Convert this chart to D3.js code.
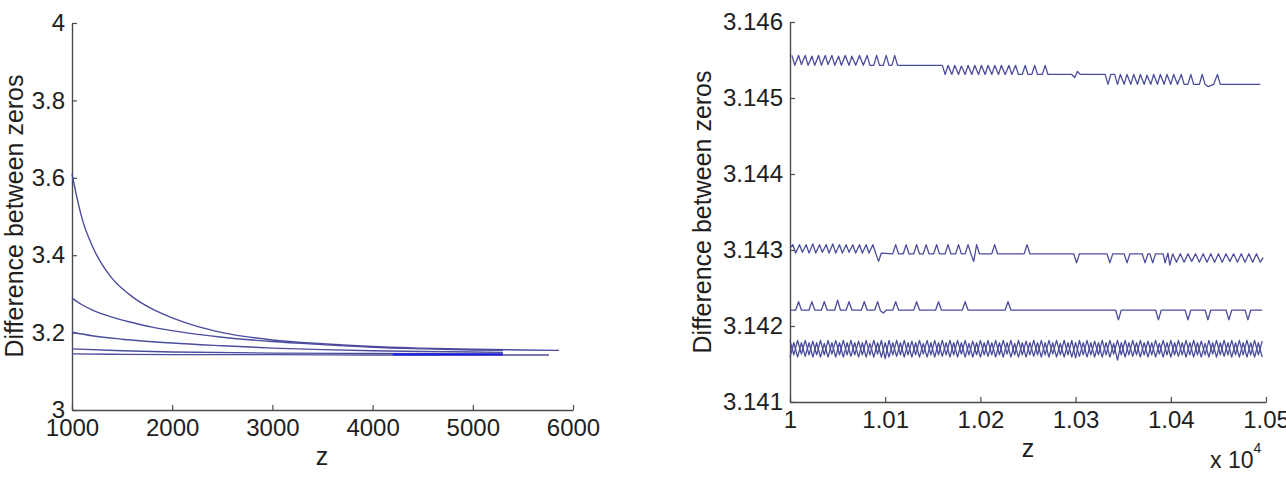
<!DOCTYPE html>
<html>
<head>
<meta charset="utf-8">
<script src="https://cdn.jsdelivr.net/npm/d3@7/dist/d3.min.js"></script>
<style>
body { margin: 0; background: #fff; }
svg { display: block; }
text { font-family: "Liberation Sans", Arial, sans-serif; }
</style>
</head>
<body>
<div id="chart"></div>
<script>
// left panel: difference between zeros, z = 1000..6000
var leftTicksX = [1000, 2000, 3000, 4000, 5000, 6000]
var leftTicksY = [3, 3.2, 3.4, 3.6, 3.8, 4]

var leftCurve1 = [[1000,3.610],[1050,3.548],[1100,3.495],[1200,3.425],[1300,3.376],[1400,3.340],[1600,3.293],[1800,3.261],[2000,3.238],[2250,3.216],[2500,3.200],[3000,3.181],[3500,3.171],[4000,3.164],[4500,3.160],[5000,3.157],[5500,3.155],[5860,3.154]]
var leftCurve2 = [[1000,3.289],[1100,3.272],[1200,3.259],[1400,3.240],[1600,3.226],[1800,3.214],[2000,3.205],[2500,3.188],[3000,3.177],[3500,3.169],[4000,3.162],[4500,3.158],[5000,3.155],[5300,3.154]]
var leftCurve3 = [[1000,3.201],[1200,3.192],[1500,3.183],[2000,3.173],[2500,3.166],[3000,3.160],[3500,3.156],[4000,3.153],[4500,3.151],[5000,3.150],[5300,3.149]]
var leftCurve4 = [[1000,3.158],[1500,3.153],[2000,3.150],[3000,3.147],[4000,3.146],[5300,3.145]]
var leftCurve5 = [[1000,3.145],[1400,3.144],[2000,3.143],[3000,3.143],[4000,3.142],[5760,3.142]]
// overplotted stretch that shows up brighter blue
var leftDense = [[4200,3.1437],[5300,3.1437]]

// right panel: z = 10000..10500 (axis shown x 10^4)
var rightTicksX = [10000, 10100, 10200, 10300, 10400, 10500]
var rightTicksY = [3.141, 3.142, 3.143, 3.144, 3.145, 3.146]

var rightTop = [[10002,3.14556],[10005,3.14543],[10009,3.14556],[10012,3.14544],[10016,3.14556],[10019,3.14543],[10023,3.14555],[10026,3.14543],[10030,3.14556],[10033,3.14543],[10037,3.14556],[10040,3.14544],[10044,3.14556],[10047,3.14543],[10051,3.14555],[10054,3.14543],[10058,3.14556],[10062,3.14543],[10065,3.14555],[10069,3.14543],[10073,3.14556],[10077,3.14543],[10081,3.14556],[10084,3.14543],[10088,3.14543],[10091,3.14556],[10094,3.14543],[10098,3.14543],[10101,3.14556],[10104,3.14543],[10107,3.14543],[10110,3.14556],[10113,3.14543],
  [10160,3.14543],[10163,3.14531],[10166,3.14543],[10170,3.14531],[10173,3.14543],[10177,3.14531],[10180,3.14542],[10184,3.14531],[10187,3.14543],[10191,3.14531],[10194,3.14543],[10198,3.14531],[10201,3.14543],[10205,3.14531],[10208,3.14543],[10212,3.14531],[10215,3.14543],[10219,3.14531],[10222,3.14543],[10226,3.14531],[10230,3.14543],[10233,3.14531],[10237,3.14543],[10240,3.14531],[10244,3.14531],[10247,3.14543],[10250,3.14531],[10254,3.14531],[10257,3.14543],[10260,3.14531],[10265,3.14531],[10268,3.14543],[10271,3.14531],
  [10296,3.14531],[10299,3.14527],[10302,3.14535],[10305,3.14531],
  [10331,3.14531],[10334,3.14518],[10337,3.14531],[10341,3.14531],[10344,3.14518],[10347,3.14531],[10351,3.14518],[10354,3.14531],[10358,3.14518],[10361,3.14531],[10365,3.14518],[10368,3.14531],[10372,3.14518],[10375,3.14530],[10379,3.14518],[10382,3.14531],[10386,3.14518],[10389,3.14531],[10393,3.14518],[10396,3.14531],[10400,3.14518],[10403,3.14531],[10407,3.14518],[10411,3.14531],[10414,3.14518],[10418,3.14518],[10421,3.14531],[10424,3.14518],[10430,3.14518],[10433,3.14531],[10436,3.14518],[10439,3.14515],[10445,3.14518],[10449,3.14531],[10452,3.14518],[10494,3.14518]]

var rightMid = [[10000,3.14303],[10003,3.14307],[10006,3.14296],[10010,3.14307],[10013,3.14297],[10017,3.14307],[10020,3.14296],[10024,3.14308],[10027,3.14296],[10031,3.14307],[10034,3.14297],[10038,3.14307],[10041,3.14296],[10045,3.14308],[10048,3.14296],[10052,3.14307],[10055,3.14296],[10059,3.14307],[10062,3.14297],[10066,3.14307],[10069,3.14296],[10073,3.14307],[10076,3.14296],[10080,3.14307],[10083,3.14296],[10087,3.14307],[10090,3.14296],[10093,3.14285],[10096,3.14296],
  [10108,3.14295],[10111,3.14307],[10114,3.14295],[10119,3.14295],[10122,3.14307],[10125,3.14295],[10130,3.14295],[10133,3.14307],[10136,3.14295],[10140,3.14295],[10143,3.14307],[10146,3.14295],[10151,3.14295],[10154,3.14307],[10157,3.14295],[10163,3.14295],[10166,3.14307],[10169,3.14295],[10174,3.14295],[10177,3.14307],[10180,3.14295],[10184,3.14295],[10187,3.14307],[10190,3.14295],[10193,3.14285],[10196,3.14307],[10199,3.14295],[10212,3.14295],[10215,3.14307],[10218,3.14295],[10246,3.14295],[10249,3.14307],[10252,3.14295],
  [10298,3.14295],[10301,3.14283],[10304,3.14295],[10333,3.14295],[10336,3.14283],[10339,3.14295],[10351,3.14295],[10354,3.14283],[10357,3.14295],[10370,3.14295],[10373,3.14283],[10376,3.14295],[10378,3.14295],[10381,3.14283],[10384,3.14295],[10392,3.14295],[10394,3.14283],[10397,3.14296],[10399,3.14280],[10402,3.14295],
  [10406,3.14284],[10410,3.14295],[10414,3.14284],[10418,3.14295],[10422,3.14285],[10426,3.14295],[10430,3.14284],[10434,3.14295],[10438,3.14284],[10442,3.14295],[10446,3.14284],[10450,3.14295],[10454,3.14284],[10458,3.14295],[10462,3.14285],[10466,3.14295],[10470,3.14284],[10474,3.14295],[10478,3.14284],[10482,3.14295],[10486,3.14284],[10490,3.14295],[10494,3.14284],[10497,3.14290]]

var rightLow = [[10000,3.14221],[10006,3.14221],[10009,3.14232],[10012,3.14221],[10020,3.14221],[10023,3.14232],[10026,3.14221],[10033,3.14221],[10036,3.14232],[10039,3.14221],[10047,3.14221],[10050,3.14234],[10053,3.14221],[10059,3.14221],[10062,3.14232],[10065,3.14221],[10075,3.14221],[10078,3.14232],[10081,3.14221],[10089,3.14221],[10092,3.14232],[10095,3.14220],[10098,3.14217],[10101,3.14221],[10108,3.14221],[10111,3.14232],[10114,3.14221],[10130,3.14221],[10133,3.14232],[10136,3.14221],[10153,3.14221],[10156,3.14232],[10159,3.14221],[10181,3.14221],[10184,3.14232],[10187,3.14221],[10226,3.14221],[10229,3.14232],[10232,3.14221],
  [10342,3.14221],[10345,3.14208],[10348,3.14221],[10384,3.14221],[10387,3.14208],[10390,3.14221],[10415,3.14221],[10418,3.14208],[10421,3.14221],[10436,3.14221],[10439,3.14208],[10442,3.14221],[10458,3.14221],[10461,3.14208],[10464,3.14221],[10478,3.14221],[10481,3.14208],[10484,3.14221],[10496,3.14221]]

// the two braided series near pi share the same z samples
var braidZ = [10000,10004,10008,10012,10016,10020,10024,10028,10032,10036,10040,10044,10048,10052,10056,10060,10064,10068,10072,10076,10080,10084,10088,10092,10096,10100,10104,10108,10112,10116,10120,10124,10128,10132,10136,10140,10144,10148,10152,10156,10160,10164,10168,10172,10176,10180,10184,10188,10192,10196,10200,10204,10208,10212,10216,10220,10224,10228,10232,10236,10240,10244,10248,10252,10256,10260,10264,10268,10272,10276,10280,10284,10288,10292,10296,10300,10304,10308,10312,10316,10320,10324,10328,10332,10336,10340,10344,10348,10352,10356,10360,10364,10368,10372,10376,10380,10384,10388,10392,10396,10400,10404,10408,10412,10416,10420,10424,10428,10432,10436,10440,10444,10448,10452,10456,10460,10464,10468,10472,10476,10480,10484,10488,10492,10496]
var braidA = [3.14181,3.14162,3.14181,3.14163,3.14181,3.14162,3.14180,3.14162,3.14181,3.14162,
  3.14181,3.14163,3.14181,3.14162,3.14181,3.14162,3.14181,3.14162,3.14180,3.14162,
  3.14181,3.14162,3.14181,3.14163,3.14181,3.14157,3.14181,3.14162,3.14181,3.14162,
  3.14181,3.14162,3.14180,3.14162,3.14181,3.14163,3.14181,3.14162,3.14181,3.14162,
  3.14181,3.14162,3.14181,3.14162,3.14181,3.14163,3.14181,3.14162,3.14180,3.14162,
  3.14181,3.14162,3.14181,3.14162,3.14181,3.14162,3.14181,3.14163,3.14181,3.14162,
  3.14181,3.14162,3.14180,3.14162,3.14181,3.14162,3.14181,3.14162,3.14181,3.14163,
  3.14181,3.14162,3.14181,3.14162,3.14181,3.14158,3.14181,3.14162,3.14181,3.14162,
  3.14180,3.14162,3.14181,3.14162,3.14181,3.14163,3.14181,3.14162,3.14181,3.14162,
  3.14181,3.14162,3.14181,3.14162,3.14180,3.14162,3.14181,3.14163,3.14181,3.14162,
  3.14181,3.14162,3.14181,3.14162,3.14181,3.14162,3.14181,3.14162,3.14180,3.14162,
  3.14181,3.14163,3.14181,3.14162,3.14181,3.14162,3.14181,3.14162,3.14181,3.14162,
  3.14181,3.14162,3.14181,3.14162,3.14180]
var braidB = [3.14159,3.14178,3.14159,3.14178,3.14160,3.14178,3.14159,3.14178,3.14159,3.14177,
  3.14159,3.14178,3.14159,3.14178,3.14159,3.14178,3.14160,3.14178,3.14159,3.14178,
  3.14159,3.14177,3.14159,3.14178,3.14159,3.14178,3.14159,3.14178,3.14160,3.14178,
  3.14159,3.14178,3.14159,3.14178,3.14159,3.14177,3.14159,3.14178,3.14159,3.14178,
  3.14160,3.14178,3.14159,3.14178,3.14159,3.14178,3.14159,3.14177,3.14159,3.14178,
  3.14159,3.14178,3.14160,3.14178,3.14159,3.14178,3.14159,3.14178,3.14159,3.14177,
  3.14159,3.14178,3.14159,3.14178,3.14160,3.14178,3.14159,3.14178,3.14159,3.14178,
  3.14159,3.14177,3.14159,3.14178,3.14159,3.14178,3.14160,3.14178,3.14159,3.14178,
  3.14159,3.14178,3.14159,3.14178,3.14159,3.14177,3.14155,3.14178,3.14159,3.14178,
  3.14160,3.14178,3.14159,3.14178,3.14159,3.14178,3.14159,3.14177,3.14159,3.14178,
  3.14159,3.14178,3.14160,3.14178,3.14159,3.14178,3.14159,3.14178,3.14159,3.14177,
  3.14159,3.14178,3.14159,3.14178,3.14160,3.14178,3.14159,3.14178,3.14159,3.14178,
  3.14159,3.14178,3.14159,3.14178,3.14159]

var W = 1286, H = 477
var lineColor = '#4c4c9e', axisColor = '#4a4a4a', textColor = '#1e1e1e'

var svg = d3.select('#chart').append('svg')
    .attr('width', W)
    .attr('height', H)

svg.append('rect').attr('width', W).attr('height', H).attr('fill', '#fff')

function drawAxes(x, y, xTicks, yTicks, fx, fy) {
    var gx = svg.append('g')
        .attr('transform', 'translate(0,' + y.range()[0] + ')')
        .call(d3.axisBottom(x).tickValues(xTicks).tickFormat(fx)
            .tickSizeInner(-5).tickSizeOuter(0).tickPadding(9))
    var gy = svg.append('g')
        .attr('transform', 'translate(' + x.range()[0] + ',0)')
        .call(d3.axisLeft(y).tickValues(yTicks).tickFormat(fy)
            .tickSizeInner(-5).tickSizeOuter(0).tickPadding(7))
    ;[gx, gy].forEach(function (g) {
        g.select('.domain').attr('stroke', axisColor).attr('stroke-width', 1.4)
        g.selectAll('.tick line').attr('stroke', axisColor).attr('stroke-width', 1.2)
        g.selectAll('.tick text').attr('fill', textColor)
            .style('font-size', '24px')
            .style('font-family', '"Liberation Sans", Arial, sans-serif')
    })
}

function drawLine(x, y, data, color, width) {
    var line = d3.line()
        .x(function (d) { return x(d[0]) })
        .y(function (d) { return y(d[1]) })
    svg.append('path')
        .datum(data)
        .attr('d', line)
        .attr('fill', 'none')
        .attr('stroke', color)
        .attr('stroke-width', width)
        .attr('stroke-linejoin', 'round')
    return line
}

// ---- left panel
var xL = d3.scaleLinear().domain([1000, 6000]).range([72, 573])
var yL = d3.scaleLinear().domain([3, 4]).range([410, 23])

drawAxes(xL, yL, leftTicksX, leftTicksY,
    function (d) { return d },
    function (d) { return String(+d.toFixed(1)) })

var smooth = d3.line().curve(d3.curveMonotoneX)
    .x(function (d) { return xL(d[0]) })
    .y(function (d) { return yL(d[1]) })
;[leftCurve1, leftCurve2, leftCurve3, leftCurve4, leftCurve5].forEach(function (c) {
    svg.append('path').datum(c).attr('d', smooth)
        .attr('fill', 'none').attr('stroke', lineColor).attr('stroke-width', 1.4)
})
drawLine(xL, yL, leftDense, '#1c1ce6', 2)

svg.append('text')
    .attr('transform', 'translate(23,216) rotate(-90)')
    .attr('text-anchor', 'middle')
    .attr('fill', textColor)
    .style('font-size', '25px')
    .text('Difference between zeros')
svg.append('text')
    .attr('x', 322).attr('y', 465)
    .attr('text-anchor', 'middle')
    .attr('fill', textColor)
    .style('font-size', '25px')
    .text('z')

// ---- right panel
var xR = d3.scaleLinear().domain([10000, 10500]).range([790, 1266])
var yR = d3.scaleLinear().domain([3.141, 3.146]).range([402, 22])

drawAxes(xR, yR, rightTicksX, rightTicksY,
    function (d) { return String(+(d / 1e4).toFixed(2)) },
    function (d) { return String(+d.toFixed(3)) })

drawLine(xR, yR, rightTop, lineColor, 1.3)
drawLine(xR, yR, rightMid, lineColor, 1.3)
drawLine(xR, yR, rightLow, lineColor, 1.3)
drawLine(xR, yR, braidZ.map(function (z, i) { return [z, braidA[i]] }), lineColor, 1.3)
drawLine(xR, yR, braidZ.map(function (z, i) { return [z, braidB[i]] }), lineColor, 1.3)

svg.append('text')
    .attr('transform', 'translate(711,212) rotate(-90)')
    .attr('text-anchor', 'middle')
    .attr('fill', textColor)
    .style('font-size', '25px')
    .text('Difference between zeros')
svg.append('text')
    .attr('x', 1028).attr('y', 457)
    .attr('text-anchor', 'middle')
    .attr('fill', textColor)
    .style('font-size', '25px')
    .text('z')

var expo = svg.append('text')
    .attr('x', 1210).attr('y', 468)
    .attr('fill', textColor)
    .style('font-size', '23px')
expo.append('tspan').text('x 10')
expo.append('tspan').attr('dy', -15).style('font-size', '14px').text('4')
</script>
</body>
</html>
